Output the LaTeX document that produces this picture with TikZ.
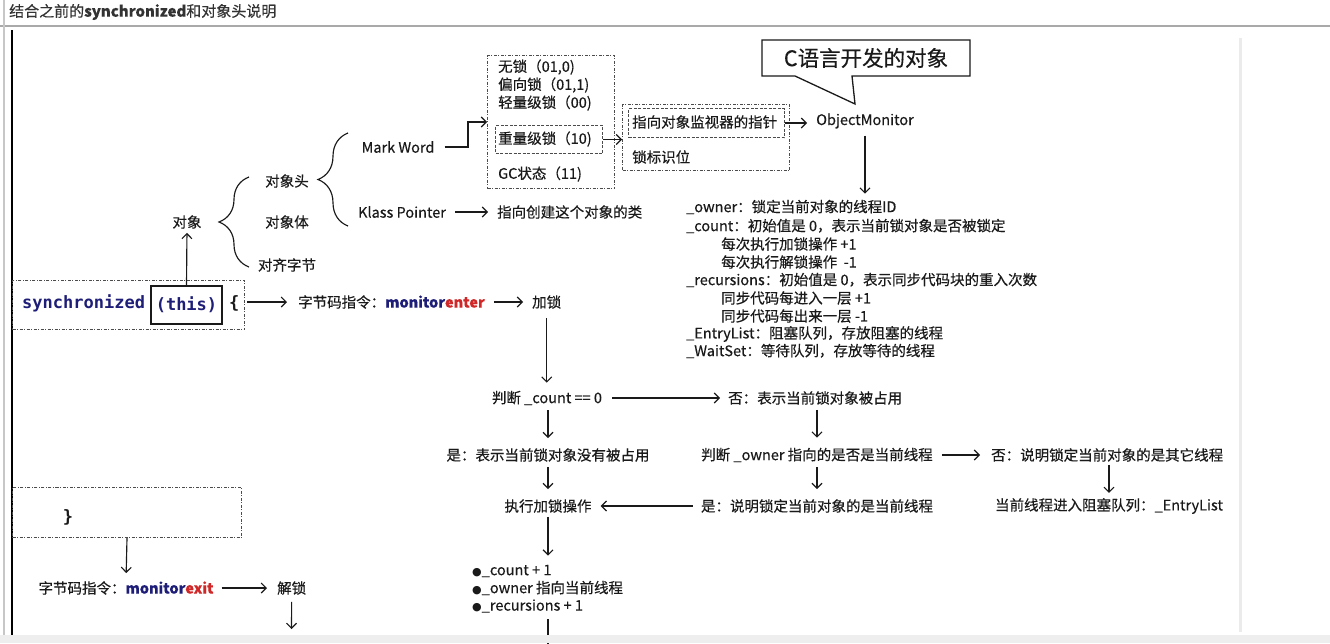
\documentclass[tikz,border=0pt]{standalone}
\usepackage{fontspec}
\setmainfont{Noto Sans CJK SC}[FakeBold=0.35]
\newfontfamily\codefont{DejaVu Sans Mono}
\newfontfamily\symfont{DejaVu Sans}
\usetikzlibrary{arrows.meta,decorations.pathreplacing}
\definecolor{navyc}{HTML}{1E1E78}
\definecolor{redc}{HTML}{D02828}
\definecolor{framegray}{HTML}{A9A9A9}
\definecolor{bandgray}{HTML}{EEEEEE}
\definecolor{ink}{HTML}{1A1A1A}
\tikzset{
 txt/.style={inner sep=0pt, font=\fontsize{14.5}{17}\selectfont, text=ink},
 txtw/.style={txt, anchor=west},
 conn/.style={draw=ink, line width=1.15pt, -{Straight Barb[length=5pt,width=10pt]}},
 plain/.style={draw=ink, line width=1.15pt},
 ddbox/.style={draw=black!70, line width=1pt, dash pattern=on 3pt off 1.5pt on 1pt off 1.5pt, inner sep=0pt, anchor=north west},
 dbox/.style={draw=black!70, line width=1pt, dash pattern=on 3pt off 1.5pt, inner sep=0pt, anchor=north west},
 brc/.style={draw=ink, line width=1.15pt, decorate, decoration={brace, amplitude=30pt}},
 code/.style={inner sep=0pt, font=\codefont\bfseries\fontsize{17}{20}\selectfont, text=navyc},
}
\begin{document}
\begin{tikzpicture}[x=1pt,y=-1pt]
\useasboundingbox (0,0) rectangle (1330,643);
\fill[white] (0,0) rectangle (1330,643);
% page frame
\draw[framegray, line width=2pt] (0,26) -- (1330,26);
\node[txtw, font=\fontsize{15}{17}\selectfont, text=black!80] (title) at (9,12) {结合之前的{\bfseries synchronized}和对象头说明};
\draw[black!22, line width=2pt] (4,0) -- (4,643);
\draw[black, line width=1.1pt] (12,30) -- (12,636);
\draw[black!8, line width=3pt] (1240,38) -- (1240,632);

% object structure
\node[txt] (dx) at (187,222) {对象};
\node[txt] (dxt) at (287,181) {对象头};
\node[txt] (dxb) at (287,222) {对象体};
\node[txt] (dq) at (287,265) {对齐字节};
\draw[brc] (249,267) -- (249,177);
\node[txt] (mw) at (398,147) {Mark Word};
\node[txt] (kp) at (402,212) {Klass Pointer};
\draw[brc] (348,226) -- (348,133);
\node[txtw] (kpc) at (497,212) {指向创建这个对象的类};
\draw[conn, shorten <=9pt, shorten >=9pt] (kp.east) -- (kpc.west);

% mark word states
\node[ddbox, minimum width=127pt, minimum height=133pt] (box1) at (487,55) {};
\node[dbox, minimum width=107pt, minimum height=28pt] (hv) at (495,125) {};
\node[txtw] (s1) at (498,67) {无锁（01,0)};
\node[txtw] (s2) at (498,85) {偏向锁（01,1)};
\node[txtw] (s3) at (498,103) {轻量级锁（00)};
\node[txtw] (s4) at (498,139) {重量级锁（10)};
\node[txtw] (s5) at (498,174) {GC状态（11)};
\coordinate (mwbend) at (468,122);
\draw[conn, shorten <=10pt] (mw.east) -| (mwbend) -- (mwbend -| box1.west);

\node[ddbox, minimum width=167pt, minimum height=66pt] (box2) at (622,104) {};
\node[dbox, minimum width=156pt, minimum height=29pt] (ptrb) at (628,108) {};
\node[txtw] (ptr) at (632,122) {指向对象监视器的指针};
\node[txtw] (flag) at (632,157) {锁标识位};
\draw[conn] (hv.east) -- (hv.east -| box2.west);

\node[txt] (om) at (865,121) {ObjectMonitor};
\draw[conn, shorten >=9pt] (ptrb.east) -- (ptrb.east -| om.west);

% callout
\draw[ink, line width=1.3pt, fill=white, line join=miter] (762,40) -- (970,40) -- (970,76) -- (852,76) -- (855,104) -- (795,76) -- (762,76) -- cycle;
\node[txt, font=\fontsize{21.5}{24}\selectfont] (callout) at (866,58) {C语言开发的对象};

% monitor fields
\node[txtw] (l1) at (686,207) {\_owner：锁定当前对象的线程ID};
\node[txtw] (l2) at (686,226) {\_count：初始值是 0，表示当前锁对象是否被锁定};
\node[txtw] (l3) at (721,244) {每次执行加锁操作 +1};
\node[txtw] (l4) at (721,262) {每次执行解锁操作\ \ -1};
\node[txtw] (l5) at (686,280) {\_recursions：初始值是 0，表示同步代码块的重入次数};
\node[txtw] (l6) at (721,298) {同步代码每进入一层 +1};
\node[txtw] (l7) at (721,316) {同步代码每出来一层 -1};
\node[txtw] (l8) at (686,334) {\_EntryList：阻塞队列，存放阻塞的线程};
\node[txtw] (l9) at (686,351) {\_WaitSet：等待队列，存放等待的线程};
\draw[conn, shorten <=7pt, shorten >=6pt] (om.south) -- (om.south |- l1.north);

% synchronized block
\node[ddbox, minimum width=232pt, minimum height=49pt] (sync) at (12,280) {};
\node[code, anchor=west] (kw) at (22,303) {synchronized};
\node[code, draw=ink, line width=1.1pt, minimum width=71pt, minimum height=38pt] (thisb) at (186.5,305) {(this)};
\node[code, anchor=west, text=ink] (lbrace) at (229,303) {\{};
\draw[conn, shorten >=4pt] (thisb.north) -- (dx.south);

\node[txtw] (enter) at (298,302) {字节码指令：{\bfseries\color{navyc}monitor}{\bfseries\color{redc}enter}};
\draw[conn, shorten <=2pt, shorten >=11pt] (sync.east |- enter.west) -- (enter.west);
\node[txtw] (lock) at (532,302) {加锁};
\draw[conn, shorten <=9pt, shorten >=9pt] (enter.east) -- (lock.west);

% lock flow
\node[txt] (j1) at (547,398) {判断 \_count == 0};
\draw[conn, shorten <=9pt, shorten >=8pt] (lock.south) -- (lock.south |- j1.north);
\node[txtw] (no1) at (728,398) {否：表示当前锁对象被占用};
\draw[conn, shorten <=10pt, shorten >=8pt] (j1.east) -- (no1.west);
\node[txt] (yes1) at (548,455) {是：表示当前锁对象没有被占用};
\draw[conn, shorten <=5pt, shorten >=10pt] (j1.south -| yes1.north) -- (yes1.north);
\node[txt] (exec) at (548,506) {执行加锁操作};
\draw[conn, shorten <=5pt, shorten >=10pt] (yes1.south) -- (exec.north);
\node[txtw] (bul1) at (472,571) {{\symfont\fontsize{11}{11}\selectfont ●}\_count + 1};
\node[txtw] (bul2) at (472,588) {{\symfont\fontsize{11}{11}\selectfont ●}\_owner 指向当前线程};
\node[txtw] (bul3) at (472,606) {{\symfont\fontsize{11}{11}\selectfont ●}\_recursions + 1};
\draw[conn, shorten <=4pt, shorten >=9pt] (exec.south) -- (exec.south |- bul1.north);
\coordinate (bultailA) at (548,619);
\coordinate (bultailB) at (548,645);
\draw[plain] (bultailA) -- (bultailB);

\node[txt] (j2) at (817,455) {判断 \_owner 指向的是否是当前线程};
\draw[conn, shorten <=5pt, shorten >=10pt] (j2.north |- no1.south) -- (j2.north);
\node[txtw] (no2) at (991,455) {否：说明锁定当前对象的是其它线程};
\draw[conn, shorten <=9pt, shorten >=11pt] (j2.east) -- (no2.west);
\node[txt] (yes2) at (817,506) {是：说明锁定当前对象的是当前线程};
\draw[conn, shorten <=5pt, shorten >=10pt] (j2.south) -- (yes2.north);
\draw[conn, shorten <=8pt, shorten >=9pt] (yes2.west) -- (exec.east);
\node[txt] (elist) at (1109,506) {当前线程进入阻塞队列：\_EntryList};
\draw[conn, shorten <=3pt, shorten >=5pt] (no2.south -| elist.north) -- (elist.north);

% end of block
\node[ddbox, minimum width=229pt, minimum height=50pt] (endbox) at (12,487) {};
\node[code, text=ink] (rbrace) at (68,517) {\}};
\node[txt] (exit) at (126,588) {字节码指令：{\bfseries\color{navyc}monitor}{\bfseries\color{redc}exit}};
\draw[conn, shorten >=8pt] (endbox.south) -- (exit.north);
\node[txtw] (unlock) at (277,588) {解锁};
\draw[conn, shorten <=8pt, shorten >=10pt] (exit.east) -- (unlock.west);
\coordinate (unlocktail) at (291.5,629);
\draw[conn, shorten <=7pt] (unlock.south) -- (unlocktail);

\fill[bandgray] (0,635) rectangle (1330,643);
\end{tikzpicture}
\end{document}
